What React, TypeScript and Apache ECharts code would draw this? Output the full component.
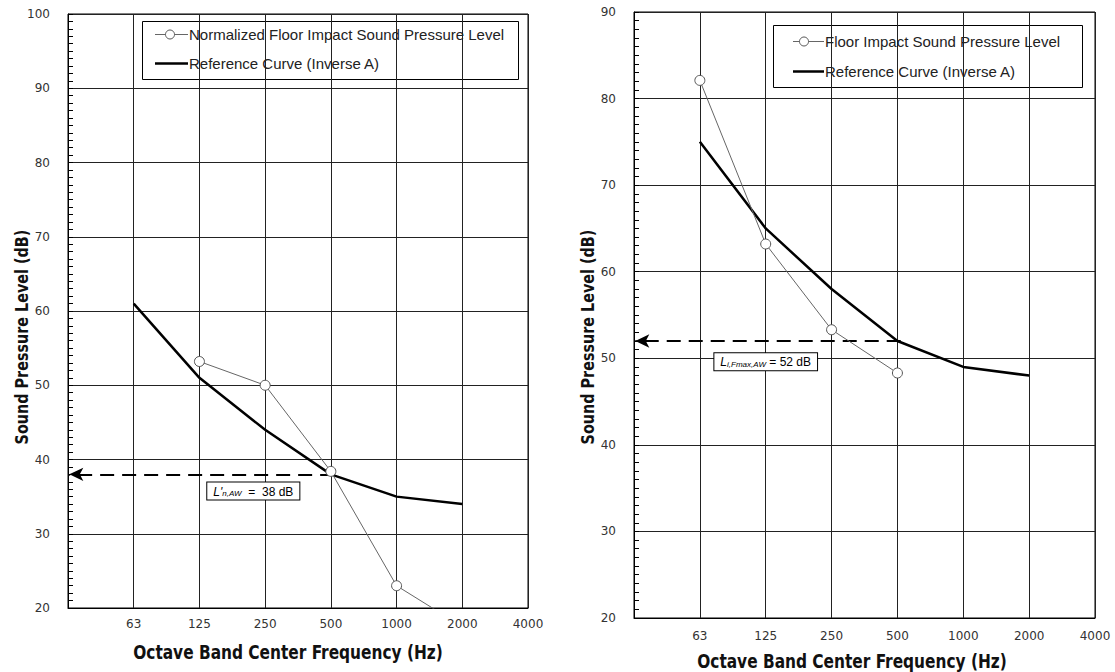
import React, { useEffect, useRef } from "react";
import * as echarts from "echarts";

// ---- data ----
const xTickLabels = ["", "63", "125", "250", "500", "1000", "2000", "4000"];
const bandIndex = [1, 2, 3, 4, 5, 6]; // 63 .. 2000 Hz positions on the octave axis

// left chart
const leftNormalized = [null, 53.2, 50, 38.4, 23, 17.5];
const leftReference = [61, 51, 44, 38, 35, 34];
const leftRating = 38;
// right chart
const rightFloor = [82.1, 63.2, 53.3, 48.3, null, null];
const rightReference = [75, 65, 58, 52, 49, 48];
const rightRating = 52;

const leftNormName = "Normalized Floor Impact Sound Pressure Level";
const rightFloorName = "Floor Impact Sound Pressure Level";
const refName = "Reference Curve (Inverse A)";

const pairs = (vals: (number | null)[]) =>
  vals
    .map((v, i) => (v === null ? null : [bandIndex[i], v]))
    .filter((p) => p !== null) as number[][];

const NARROW = "'DejaVu Sans Condensed', 'DejaVu Sans', sans-serif";
const SANS = "'Liberation Sans', Arial, sans-serif";
const TICKFONT = "'DejaVu Sans', sans-serif";

export default function App() {
  const ref = useRef<HTMLDivElement>(null);
  useEffect(() => {
    document.body.style.margin = "0";
    const chart = echarts.init(ref.current!, null, { renderer: "svg" });

    const xAxisBase = (gridIndex: number, margin: number) => ({
      type: "value",
      gridIndex,
      min: 0,
      max: 7,
      interval: 1,
      axisLine: { show: true, lineStyle: { color: "#000", width: 1 } },
      axisTick: { show: false },
      axisLabel: {
        margin,
        color: "#333",
        fontSize: 12,
        fontFamily: TICKFONT,
        formatter: (v: number) => xTickLabels[Math.round(v)] ?? "",
      },
      splitLine: { show: true, lineStyle: { color: "#222", width: 1 } },
    });
    const yAxisBase = (gridIndex: number, max: number) => ({
      type: "value",
      gridIndex,
      min: 20,
      max,
      interval: 10,
      axisLine: { show: true, lineStyle: { color: "#000", width: 1 } },
      axisTick: { show: true, inside: true, length: 5, lineStyle: { color: "#000", width: 1 } },
      minorTick: { show: true, splitNumber: 10, length: 5, lineStyle: { color: "#000", width: 1 } },
      axisLabel: { margin: 18, color: "#333", fontSize: 12, fontFamily: TICKFONT },
      splitLine: { show: true, lineStyle: { color: "#222", width: 1 } },
    });

    const measuredSeries = (name: string, idx: number, vals: (number | null)[]) => ({
      name,
      type: "line",
      xAxisIndex: idx,
      yAxisIndex: idx,
      data: pairs(vals),
      symbol: "circle",
      symbolSize: 10,
      z: 5,
      lineStyle: { color: "#666", width: 1 },
      itemStyle: { color: "#fff", borderColor: "#555", borderWidth: 1 },
    });

    const refSeries = (idx: number, vals: number[], rating: number, labelCoord: number[], formatter: string) => ({
      name: refName,
      type: "line",
      xAxisIndex: idx,
      yAxisIndex: idx,
      data: pairs(vals),
      symbol: "none",
      z: 3,
      lineStyle: { color: "#000", width: 2.5 },
      itemStyle: { color: "#000" },
      markLine: {
        silent: true,
        symbol: ["none", "arrow"],
        symbolSize: [10, 14],
        label: { show: false },
        lineStyle: { color: "#000", width: 2, type: [14, 8] },
        data: [[{ coord: [4.05, rating] }, { coord: [0.02, rating] }]],
      },
      markPoint: {
        silent: true,
        symbol: "rect",
        symbolSize: 1,
        itemStyle: { color: "transparent" },
        data: [{ coord: labelCoord }],
        label: {
          show: true,
          position: "inside",
          formatter,
          backgroundColor: "#fff",
          borderColor: "#000",
          borderWidth: 1,
          padding: [3, 6, 2, 6],
          rich: {
            i: { fontStyle: "italic", fontSize: 12, fontFamily: SANS, color: "#000" },
            s: { fontStyle: "italic", fontSize: 8, fontFamily: SANS, color: "#000", verticalAlign: "bottom" },
            t: { fontSize: 12, fontFamily: SANS, color: "#000" },
          },
        },
      },
    });

    const legendFont = { fontSize: 15, fontFamily: SANS, fill: "#222", verticalAlign: "middle", align: "left" };
    const legendGraphic = (
      box: number[],
      rows: number[],
      lineX: number[],
      circleX: number,
      textX: number,
      measuredName: string
    ) => ({
      type: "group",
      children: [
        { type: "rect", shape: { x: box[0] + 0.5, y: box[1] + 0.5, width: box[2], height: box[3] }, style: { fill: "#fff", stroke: "#000", lineWidth: 1 } },
        { type: "line", shape: { x1: lineX[0], y1: rows[0], x2: lineX[1], y2: rows[0] }, style: { stroke: "#666", lineWidth: 1 } },
        { type: "circle", shape: { cx: circleX, cy: rows[0], r: 4.5 }, style: { fill: "#fff", stroke: "#555", lineWidth: 1 } },
        { type: "text", x: textX, y: rows[0], style: { ...legendFont, text: measuredName } },
        { type: "line", shape: { x1: lineX[0], y1: rows[1], x2: lineX[1], y2: rows[1] }, style: { stroke: "#000", lineWidth: 2.5 } },
        { type: "text", x: textX, y: rows[1], style: { ...legendFont, text: refName } },
      ],
    });

    const nameStyle = { fill: "#111", fontWeight: "bold", fontFamily: NARROW, align: "center", verticalAlign: "middle" };

    chart.setOption({
      animation: false,
      backgroundColor: "#fff",
      grid: [
        { left: 68, top: 14, width: 460, height: 594, show: true, borderColor: "#000", borderWidth: 1, backgroundColor: "transparent" },
        { left: 634, top: 12, width: 461, height: 606, show: true, borderColor: "#000", borderWidth: 1, backgroundColor: "transparent" },
      ],
      xAxis: [xAxisBase(0, 10), xAxisBase(1, 12)],
      yAxis: [yAxisBase(0, 100), yAxisBase(1, 90)],
      series: [
        refSeries(0, leftReference, leftRating, [2.82, 35.75], `{i|L'}{s|n,AW}{t|  =  ${leftRating} dB}`),
        measuredSeries(leftNormName, 0, leftNormalized),
        refSeries(1, rightReference, rightRating, [2.0, 49.6], `{i|L}{s|i,Fmax,AW}{t| = ${rightRating} dB}`),
        measuredSeries(rightFloorName, 1, rightFloor),
      ],
      graphic: [
        legendGraphic([142, 21, 376, 58], [34.5, 63.5], [155, 188], 170, 189, leftNormName),
        legendGraphic([773, 25, 309, 62], [41.5, 71.5], [793, 824], 804, 825, rightFloorName),
        { type: "text", x: 22, y: 337, rotation: Math.PI / 2, scaleX: 0.94, style: { ...nameStyle, fontSize: 17, text: "Sound Pressure Level (dB)" } },
        { type: "text", x: 588, y: 337, rotation: Math.PI / 2, scaleX: 0.94, style: { ...nameStyle, fontSize: 17, text: "Sound Pressure Level (dB)" } },
        { type: "text", x: 288, y: 652, scaleX: 0.9, style: { ...nameStyle, fontSize: 19, text: "Octave Band Center Frequency (Hz)" } },
        { type: "text", x: 852, y: 661, scaleX: 0.9, style: { ...nameStyle, fontSize: 19, text: "Octave Band Center Frequency (Hz)" } },
      ],
    });
    return () => chart.dispose();
  }, []);
  return <div ref={ref} style={{ position: "absolute", left: 0, top: 0, width: 1115, height: 672 }} />;
}
